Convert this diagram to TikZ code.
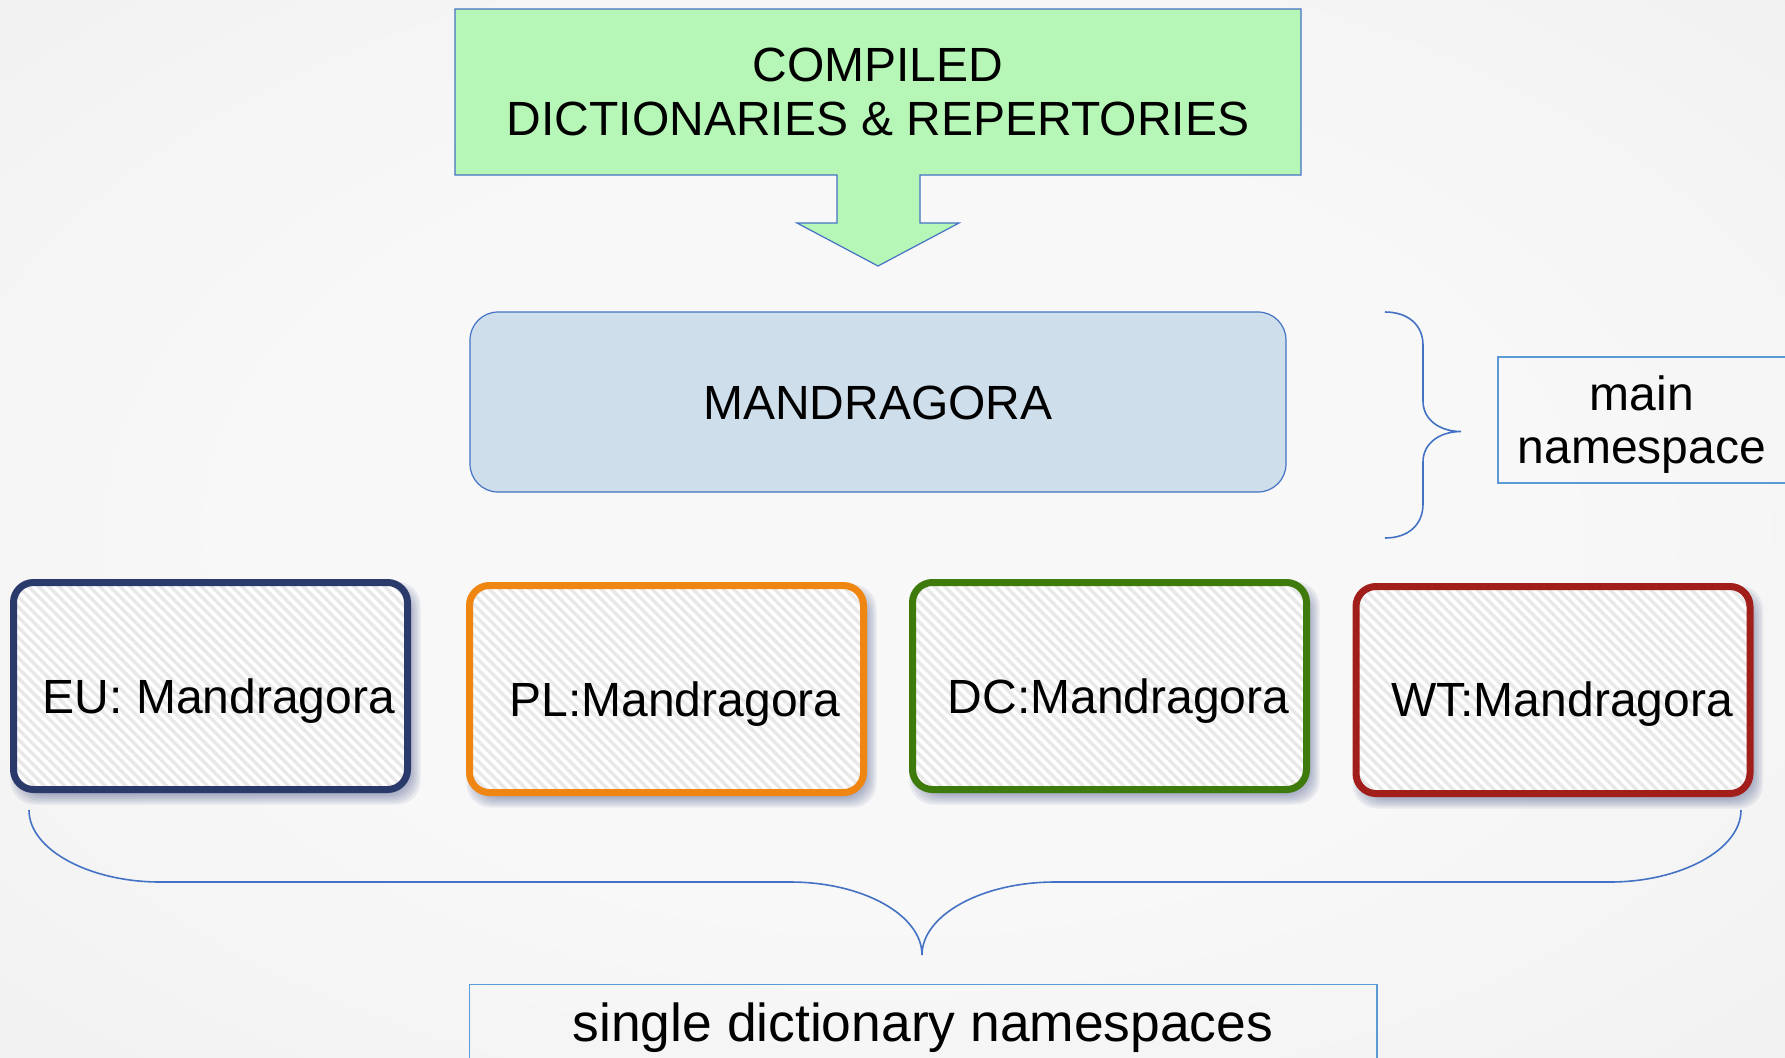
\documentclass[tikz,border=0pt]{standalone}
\usepackage{fontspec}
\setmainfont{Liberation Sans}
\usetikzlibrary{patterns.meta}
\definecolor{bgin}{HTML}{F8F8F8}
\definecolor{bgout}{HTML}{E4E4E4}
\definecolor{greenfill}{HTML}{B6F6B6}
\definecolor{edgeblue}{HTML}{4472C4}
\definecolor{boxblue}{HTML}{5B9BD5}
\definecolor{mandfill}{HTML}{CFDEEB}
\definecolor{eucol}{HTML}{2A3A6B}
\definecolor{plcol}{HTML}{EF8612}
\definecolor{dccol}{HTML}{3E7A0C}
\definecolor{wtcol}{HTML}{A21E1A}
\definecolor{shadowcol}{HTML}{3B4A80}
\pgfdeclareradialshading{bgshade}{\pgfpoint{0bp}{0bp}}{color(0bp)=(bgin); color(18bp)=(bgin); color(71bp)=(bgout)}
\tikzset{
  txt/.style={inner sep=0pt, outer sep=0pt, text=black, font=\fontsize{24}{27}\selectfont},
  ubox/.style={rectangle, rounded corners=10pt, minimum width=197pt, minimum height=103.5pt,
    inner sep=0pt, outer sep=0pt, line width=3.5pt,
    preaction={fill=white},
    pattern={Lines[angle=-45,distance=3.6pt,line width=1.7pt]}, pattern color=black!9},
  shadowlayer/.style={fill=shadowcol, opacity=0.085, rounded corners=12pt},
  bracepath/.style={draw=edgeblue, line width=0.8pt},
  labelbox/.style={draw=boxblue, line width=0.9pt}
}
\newcommand\dictshadow[1]{%
  \foreach \d in {-2,0,2,4,6,8}{%
    \fill[shadowlayer] ([shift={(5-\d,7+\d)}]#1.south west) rectangle ([shift={(5+\d,7-\d)}]#1.north east);
  }%
}
\begin{document}
\begin{tikzpicture}[x=0.5pt,y=-0.5pt]
\useasboundingbox (0,0) rectangle (1785,1057);
\path[shading=bgshade] (0,0) rectangle (1785,1057);
% top green callout
\path[fill=greenfill, draw=edgeblue, line width=0.6pt]
  (455,9) -- (1301,9) -- (1301,175) -- (920,175) -- (920,223) -- (959,223)
  -- (878,266) -- (797,223) -- (837,223) -- (837,175) -- (455,175) -- cycle;
\node[txt, align=center] (top) at (878,92) {COMPILED\\DICTIONARIES \& REPERTORIES};
% Mandragora main box
\node[rectangle, rounded corners=14pt, minimum width=408pt, minimum height=90pt,
  fill=mandfill, draw=edgeblue, line width=0.6pt, inner sep=0pt] (mand) at (878,402) {};
\node[txt, anchor=base] (mandt) at (878,419) {MANDRAGORA};
% right brace
\coordinate (rb1) at (1385,312);
\coordinate (rb2) at (1385,538);
\draw[bracepath] (rb1) .. controls (1408,312) and (1423,325) .. (1423,345) -- (1423,401)
  .. controls (1423,420) and (1440,431.5) .. (1461,431.5)
  .. controls (1440,431.5) and (1423,443) .. (1423,462) -- (1423,504)
  .. controls (1423,525) and (1408,538) .. (rb2);
% main namespace label
\draw[labelbox] (1498,357) rectangle (1800,483);
\node[txt, anchor=base] (mainl1) at (1642,410) {main};
\node[txt, anchor=base] (mainl2) at (1642,463) {namespace};
% four dictionary boxes (positions via coordinates, shadows first)
\path (210.5,686) coordinate (euc) (666.5,689) coordinate (plc)
      (1109.5,686) coordinate (dcc) (1553,690) coordinate (wtc);
\path (euc) node[minimum width=197pt, minimum height=103.5pt, inner sep=0pt, outer sep=0pt] (eus) {}
      (plc) node[minimum width=197pt, minimum height=103.5pt, inner sep=0pt, outer sep=0pt] (pls) {}
      (dcc) node[minimum width=197pt, minimum height=103.5pt, inner sep=0pt, outer sep=0pt] (dcs) {}
      (wtc) node[minimum width=197pt, minimum height=103.5pt, inner sep=0pt, outer sep=0pt] (wts) {};
\dictshadow{eus}
\dictshadow{pls}
\dictshadow{dcs}
\dictshadow{wts}
\node[ubox, draw=eucol] (eu) at (euc) {};
\node[ubox, draw=plcol] (pl) at (plc) {};
\node[ubox, draw=dccol] (dc) at (dcc) {};
\node[ubox, draw=wtcol] (wt) at (wtc) {};
\node[txt, anchor=base] (eut) at (219,713) {EU: Mandragora};
\node[txt, anchor=base] (plt) at (675,716) {PL:Mandragora};
\node[txt, anchor=base] (dct) at (1118.5,713) {DC:Mandragora};
\node[txt, anchor=base] (wtt) at (1562,716) {WT:Mandragora};
% bottom brace
\coordinate (bb1) at (29,810);
\coordinate (bb2) at (1741,810);
\draw[bracepath] (bb1) .. controls (29,850) and (90,882) .. (160,882) -- (790,882)
  .. controls (863,882) and (922,915) .. (922,955)
  .. controls (922,915) and (982,882) .. (1055,882) -- (1610,882)
  .. controls (1680,882) and (1741,850) .. (bb2);
% bottom label
\draw[labelbox] (469.5,984.5) rectangle (1377,1070);
\node[txt, font=\fontsize{26.7}{30}\selectfont, anchor=base] (single) at (923,1041) {single dictionary namespaces};
\end{tikzpicture}
\end{document}
